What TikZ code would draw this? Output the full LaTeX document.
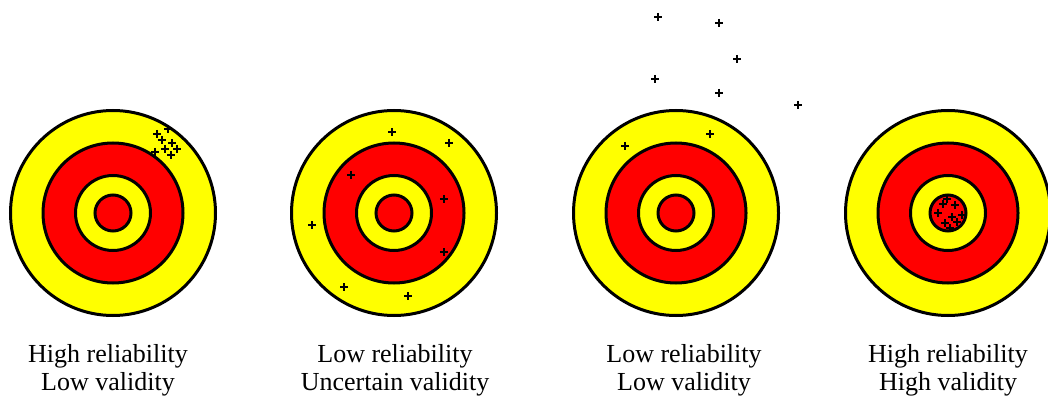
\documentclass[tikz,border=0pt]{standalone}
\usepackage{fontspec}
\setmainfont{Liberation Serif}
\usetikzlibrary{calc}

\definecolor{targetyellow}{RGB}{255,255,0}
\definecolor{targetred}{RGB}{255,0,0}

\tikzset{
  ring/.style={draw=black,line width=3pt},
  hit/.style={draw=black,line width=2.6pt},
  caption/.style={align=center,inner sep=0pt,font=\fontsize{26}{28}\selectfont}
}

\begin{document}
\begin{tikzpicture}[x=1pt,y=-1pt]
\useasboundingbox (0,0) rectangle (1048,398);
\coordinate (T1) at (113,213);
\coordinate (T2) at (394,213);
\coordinate (T3) at (676,213);
\coordinate (T4) at (948,213);

  % the four targets
  \foreach \t in {T1,T2,T3,T4}{
    \fill[targetyellow,ring] (\t) circle (102.5);
    \fill[targetred,ring] (\t) circle (70);
    \fill[targetyellow,ring] (\t) circle (37.5);
    \fill[targetred,ring] (\t) circle (18);
  }

  % shots
  \foreach \x/\y in {168/129,157/134,162/140,172/143,165/149,177/149,155/152,171/155,
                     392/132,449/143,351/175,444/199,312/225,444/252,344/287,408/296,
                     658/17,719/23,737/59,655/79,719/93,798/105,710/134,625/146,
                     947/199,943/204,955/205,938/213,952/217,962/215,945/223,957/222,950/228}{
    \draw[hit] (\x-4,\y) -- (\x+4,\y);
    \draw[hit] (\x,\y-4) -- (\x,\y+4);
  }

  \node[caption,anchor=north] (L1) at (108,344) {High reliability\\Low validity};
  \node[caption,anchor=north] (L2) at (395,344) {Low reliability\\Uncertain validity};
  \node[caption,anchor=north] (L3) at (684,344) {Low reliability\\Low validity};
  \node[caption,anchor=north] (L4) at (948,344) {High reliability\\High validity};
\end{tikzpicture}
\end{document}
